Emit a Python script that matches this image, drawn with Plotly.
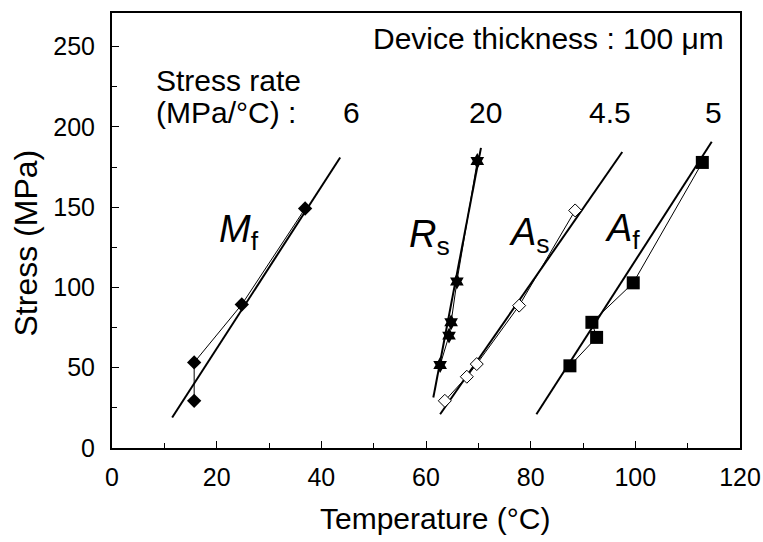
import plotly.graph_objects as go

# ---- data ----
mf_temp = [15.7, 15.7, 24.8, 36.9]
mf_stress = [29.4, 53.3, 89.4, 149.2]
mf_fit_temp = [11.5, 43.6]
mf_fit_stress = [19.0, 181.0]

rs_temp = [62.7, 64.4, 64.8, 65.9, 69.8]
rs_stress = [51.7, 70.0, 78.3, 103.7, 178.8]
rs_fit_temp = [61.4, 70.5]
rs_fit_stress = [31.5, 187.0]

as_temp = [63.6, 67.8, 69.7, 77.8, 88.5]
as_stress = [29.4, 44.4, 52.3, 88.7, 148.0]
as_fit_temp = [62.7, 97.5]
as_fit_stress = [21.0, 184.4]

af_temp = [87.5, 92.6, 91.7, 99.6, 112.8]
af_stress = [51.2, 68.9, 78.3, 102.9, 177.9]
af_fit_temp = [81.1, 114.6]
af_fit_stress = [21.0, 190.8]

rate_labels = ["6", "20", "4.5", "5"]
rate_x = [45.8, 71.4, 95.2, 115.0]

phase_labels = ["<i>M</i><sub>f</sub>", "<i>R</i><sub>s</sub>",
                "<i>A</i><sub>s</sub>", "<i>A</i><sub>f</sub>"]
phase_x = [24.2, 60.6, 79.7, 97.6]
phase_y = [134.5, 131.5, 132.5, 135.5]

x_tick_vals = [0, 20, 40, 60, 80, 100, 120]
y_tick_vals = [0, 50, 100, 150, 200, 250]

FONT = "Liberation Sans, Arial, Helvetica, sans-serif"

fig = go.Figure()


def add_series(tx, sy, fx, fy, symbol, size, color, line_color="black", lw=0):
    fig.add_trace(go.Scatter(x=fx, y=fy, mode="lines",
                             line=dict(color="black", width=2), showlegend=False,
                             hoverinfo="skip"))
    fig.add_trace(go.Scatter(x=tx, y=sy, mode="lines+markers",
                             line=dict(color="black", width=1),
                             marker=dict(symbol=symbol, size=size, color=color,
                                         line=dict(color=line_color, width=lw)),
                             showlegend=False))


add_series(mf_temp, mf_stress, mf_fit_temp, mf_fit_stress, "diamond", 11, "black")
add_series(rs_temp, rs_stress, rs_fit_temp, rs_fit_stress, "hexagram", 12, "black")
add_series(as_temp, as_stress, as_fit_temp, as_fit_stress, "diamond", 10, "white", "black", 1)
add_series(af_temp, af_stress, af_fit_temp, af_fit_stress, "square", 13, "black")

TXT = 30
annotations = [
    dict(x=1.0, y=255, xref="paper", yref="y", text="Device thickness : 100 μm",
         showarrow=False, xanchor="right", xshift=-14, font=dict(size=TXT)),
    dict(x=8.0, y=229, text="Stress rate", showarrow=False, xanchor="left",
         font=dict(size=TXT)),
    dict(x=8.0, y=209, text="(MPa/°C) :", showarrow=False, xanchor="left",
         font=dict(size=TXT)),
    # axis titles
    dict(x=0.5, y=0, xref="paper", yref="paper", text="Temperature (°C)",
         showarrow=False, xanchor="center", yanchor="middle", xshift=9, yshift=-70,
         font=dict(size=30)),
    dict(x=0, y=0.5, xref="paper", yref="paper", text="Stress (MPa)",
         showarrow=False, xanchor="center", yanchor="middle", xshift=-87, yshift=-13,
         textangle=-90, font=dict(size=32)),
]
for lab, x in zip(rate_labels, rate_x):
    annotations.append(dict(x=x, y=209, text=lab, showarrow=False, font=dict(size=TXT)))
for lab, x, y in zip(phase_labels, phase_x, phase_y):
    annotations.append(dict(x=x, y=y, text=lab, showarrow=False, font=dict(size=38)))

fig.update_layout(
    width=763, height=542,
    margin=dict(l=112, r=23, t=13, b=94, autoexpand=False),
    paper_bgcolor="white", plot_bgcolor="white",
    font=dict(family=FONT, color="black", size=25),
    annotations=annotations,
    showlegend=False,
)
fig.update_xaxes(
    range=[0, 120], tickvals=x_tick_vals,
    ticks="inside", ticklen=7, tickwidth=1, tickcolor="black",
    minor=dict(ticks="inside", ticklen=5, dtick=10, tickcolor="black"),
    showline=True, linecolor="black", linewidth=2, mirror=True,
    showgrid=False, zeroline=False, ticklabelstandoff=6,
    tickfont=dict(size=25), automargin=False,
)
fig.update_yaxes(
    range=[0, 271], tickvals=y_tick_vals,
    ticks="inside", ticklen=7, tickwidth=1, tickcolor="black",
    minor=dict(ticks="inside", ticklen=5, tickvals=[25, 75, 125, 175, 225], tickcolor="black"),
    showline=True, linecolor="black", linewidth=2, mirror=True,
    showgrid=False, zeroline=False, ticklabelstandoff=10,
    tickfont=dict(size=25), automargin=False,
)

fig.write_html("out.html")
